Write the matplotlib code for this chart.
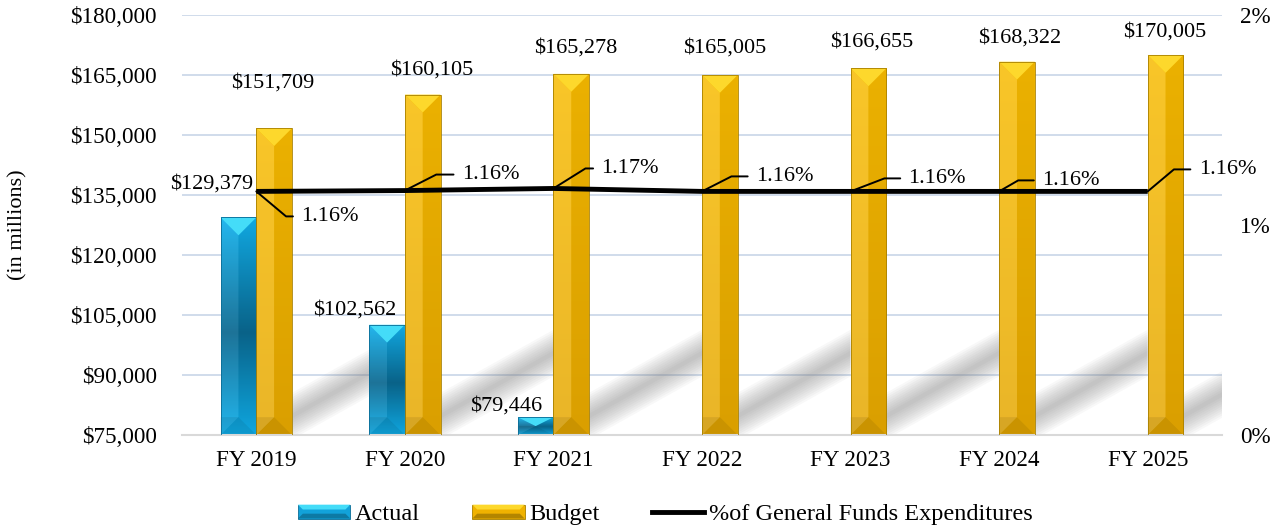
import matplotlib.pyplot as plt
import matplotlib.transforms as mtransforms
import numpy as np
from matplotlib.colors import LinearSegmentedColormap
from matplotlib.legend_handler import HandlerBase
from matplotlib.lines import Line2D
from matplotlib.patches import Polygon, Rectangle
from matplotlib.ticker import FuncFormatter, MultipleLocator

plt.rcParams["font.family"] = ["Liberation Serif", "DejaVu Serif"]

# ---- data -------------------------------------------------------------
years = ["FY 2019", "FY 2020", "FY 2021", "FY 2022", "FY 2023", "FY 2024", "FY 2025"]
actual = [129379, 102562, 79446, np.nan, np.nan, np.nan, np.nan]
budget = [151709, 160105, 165278, 165005, 166655, 168322, 170005]
pct_gf = [1.160, 1.164, 1.174, 1.160, 1.160, 1.160, 1.160]  # % of general funds exp.

Y_MIN, Y_MAX = 75000, 180000
BAR_W = 0.24
FS = 16
FS_TICK = 16.7
FS_LEG = 17.5

# label placement (pixels) so texts stay clear of the line
actual_off = [(-27, 33), (-32, 15), (-29, 11)]
budget_off = [(-1, 45), (9, 25), (4, 26), (5, 27), (3, 26), (3, 24), (-1, 23)]
pct_off = [(45, -25), (57, 16), (48, 20), (54, 15), (58, 13), (43, 11), (51, 22)]
pct_ang = [-40, 27, 32, 27, 21, 30, 40]

BLUE = dict(stops=[(0, "#10b0ec"), (0.47, "#0a6890"), (1, "#12b2ee")],
            top="#44dcf8", edge="#0b6d96", legend="#12a2da", light=0.08)
GOLD = dict(stops=[(0, "#e6a800"), (1, "#f8bb00")],
            top="#fdd82c", edge="#a88000", legend="#f0b200", light=0.16)


def bevel_bar(ax, rect, style):
    """paint one bar like the office 'bevel' preset"""
    h = rect.get_height()
    if not np.isfinite(h):
        return
    x0, y0, w = rect.get_x(), rect.get_y(), rect.get_width()
    x1, y1, xc = x0 + w, y0 + h, x0 + w / 2
    px = ax.transData.transform([(x0, y0), (x1, y0)])
    d = (px[1, 0] - px[0, 0]) / 2 * (Y_MAX - Y_MIN) / ax.bbox.height
    d = min(d, h / 2)

    cmap = LinearSegmentedColormap.from_list("bev", style["stops"])
    grad = np.linspace(0, 1, 256).reshape(-1, 1)
    im = ax.imshow(grad, cmap=cmap, extent=(x0, x1, y0, y1), origin="lower",
                   aspect="auto", interpolation="bicubic", zorder=2)
    im.set_clip_path(rect)

    faces = [
        ([(x0, y0), (xc, y0 + d), (xc, y1 - d), (x0, y1)], "white", style["light"]),
        ([(x1, y0), (xc, y0 + d), (xc, y1 - d), (x1, y1)], "black", 0.05),
        ([(x0, y1), (x1, y1), (xc, y1 - d)], style["top"], 1.0),
        ([(x0, y0), (x1, y0), (xc, y0 + d)], "black", 0.12),
        ([(x0, y0), (xc, y0 + d), (x0, y0 + d)], "black", 0.08),
    ]
    for pts, col, a in faces:
        ax.add_patch(Polygon(pts, closed=True, facecolor=col, alpha=a, lw=0, zorder=2.5))
    ax.add_patch(Rectangle((x0, y0), w, h, fill=False, edgecolor=style["edge"],
                           lw=0.6, zorder=2.6))


def cast_shadow(ax, xs, xe):
    tr = mtransforms.blended_transform_factory(ax.transData, ax.transAxes)
    ys, ye = 0.045, 0.195
    for k in range(10):
        t = 0.006 + 0.0055 * k
        ax.add_patch(Polygon([(xs, ys - t), (xe, ye - t), (xe, ye + t), (xs, ys + t)],
                             transform=tr, facecolor="#808080", alpha=0.055,
                             lw=0, zorder=1))


class BevelHandler(HandlerBase):
    def __init__(self, style):
        super().__init__()
        self.style = style

    def create_artists(self, legend, orig_handle, xdescent, ydescent,
                       width, height, fontsize, trans):
        x0, y0 = -xdescent, -ydescent
        b = height * 0.35
        s = self.style
        body = Rectangle((x0, y0), width, height, facecolor=s["legend"],
                         edgecolor=s["edge"], lw=0.6, transform=trans)
        top = Polygon([(x0, y0 + height), (x0 + width, y0 + height),
                       (x0 + width - b, y0 + height - b), (x0 + b, y0 + height - b)],
                      facecolor=s["top"], lw=0, transform=trans)
        bot = Polygon([(x0, y0), (x0 + width, y0), (x0 + width - b, y0 + b), (x0 + b, y0 + b)],
                      facecolor="black", alpha=0.25, lw=0, transform=trans)
        return [body, top, bot]


fig = plt.figure(figsize=(12.81, 5.29), dpi=100)
ax = fig.add_axes([182 / 1281, 1 - 435 / 529, 1040 / 1281, 420 / 529])
x = np.arange(len(years))
ax.set_xlim(-0.5, len(years) - 0.5)
ax.set_ylim(Y_MIN, Y_MAX)

# grid + axes cosmetics
ax.yaxis.set_major_locator(MultipleLocator(15000))
ax.yaxis.set_major_formatter(FuncFormatter(lambda v, p: f"${v:,.0f}"))
ax.yaxis.grid(True, color="#c3d2e5", lw=1.1)
ax.set_axisbelow(True)
for s in ["top", "left", "right"]:
    ax.spines[s].set_visible(False)
ax.spines["bottom"].set_color("#d9d9d9")
ax.spines["bottom"].set_linewidth(1.5)
ax.set_xticks(x, years)
ax.tick_params(axis="x", length=0, pad=11, labelsize=FS_TICK)
ax.tick_params(axis="y", length=0, pad=18, labelsize=FS_TICK)

# shadows behind bars
for i in x:
    cast_shadow(ax, i + BAR_W, i + 1.0)

act_arr = np.array(actual, dtype=float)
bud_arr = np.array(budget, dtype=float)
bars_a = ax.bar(x - BAR_W / 2, act_arr - Y_MIN, BAR_W, bottom=Y_MIN,
                color=BLUE["legend"], zorder=1.5)
bars_b = ax.bar(x + BAR_W / 2, bud_arr - Y_MIN, BAR_W, bottom=Y_MIN,
                color=GOLD["legend"], zorder=1.5)
for r in bars_a:
    bevel_bar(ax, r, BLUE)
for r in bars_b:
    bevel_bar(ax, r, GOLD)

# data labels
for i, v in enumerate(actual):
    if np.isfinite(v):
        ax.annotate(f"${v:,.0f}", (i - BAR_W / 2, v), xytext=actual_off[i],
                    textcoords="offset pixels", ha="center", va="center",
                    fontsize=FS, zorder=5)
for i, v in enumerate(budget):
    ax.annotate(f"${v:,.0f}", (i + BAR_W / 2, v), xytext=budget_off[i],
                textcoords="offset pixels", ha="center", va="center",
                fontsize=FS, zorder=5)

# secondary axis: share of general funds
ax2 = ax.twinx()
ax2.set_ylim(0, 2)
ax2.yaxis.set_major_locator(MultipleLocator(1))
ax2.yaxis.set_major_formatter(FuncFormatter(lambda v, p: f"{v:.0f}%"))
ax2.tick_params(axis="y", length=0, pad=13, labelsize=FS_TICK)
for s in ax2.spines.values():
    s.set_visible(False)
ax2.plot(x, pct_gf, color="black", lw=3.5, solid_capstyle="butt", zorder=4)
for i, p in enumerate(pct_gf):
    ax2.annotate(f"{p:.2f}%", (i, p), xytext=pct_off[i], textcoords="offset pixels",
                 ha="left", va="center", fontsize=FS,
                 arrowprops=dict(arrowstyle="-", color="black", lw=1.4,
                                 relpos=(0, 0.5), shrinkA=4, shrinkB=0,
                                 connectionstyle=f"angle,angleA=0,angleB={pct_ang[i]},rad=0"))

fig.text(18 / 1281, 1 - 225 / 529, "(in millions)", rotation=90,
         ha="center", va="center", fontsize=FS)

h_act = Rectangle((0, 0), 1, 1)
h_bud = Rectangle((0, 0), 1, 1)
h_line = Line2D([], [], color="black", lw=3.5)
fig.legend([h_act, h_bud, h_line],
           ["Actual", "Budget", "%of General Funds Expenditures"],
           handler_map={h_act: BevelHandler(BLUE), h_bud: BevelHandler(GOLD)},
           loc="center", bbox_to_anchor=(0.5195, 0.027), ncol=3, frameon=False,
           fontsize=FS_LEG, handlelength=2.15, handleheight=0.5,
           handletextpad=0.2, columnspacing=2.15)

fig.savefig("out.png", dpi=100)
plt.close(fig)
